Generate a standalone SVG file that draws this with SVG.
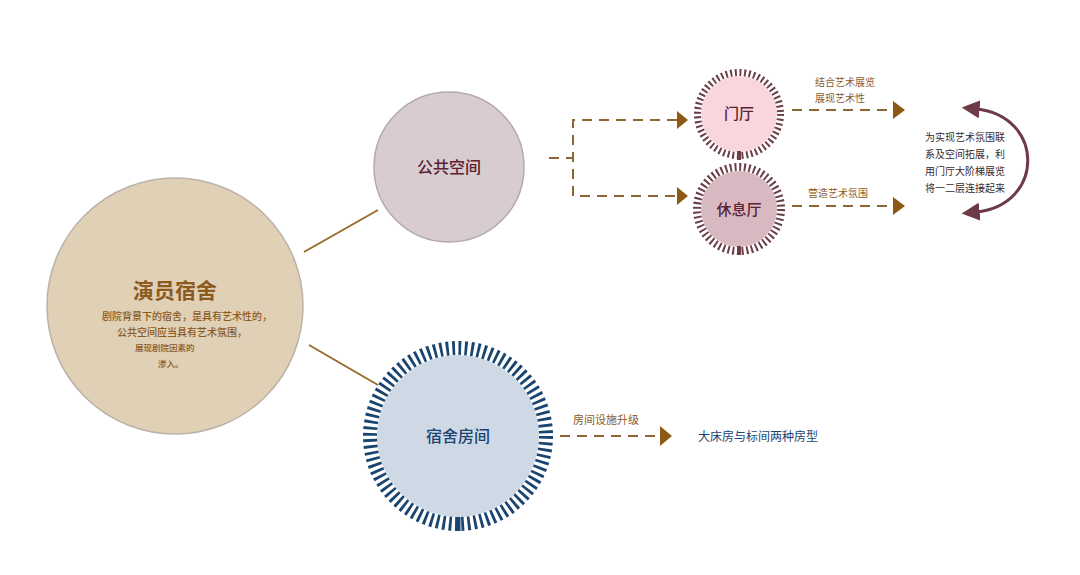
<svg xmlns="http://www.w3.org/2000/svg" width="1080" height="575" viewBox="0 0 1080 575">
<defs>
<style>
text{font-family:"Noto Sans CJK SC","Noto Sans",sans-serif}
.brown{fill:#8c5a1f}
.maroon{fill:#5a2232}
.navy{fill:#1a4570}
.solid{stroke:#9a6a2c;stroke-width:2;fill:none}
.dash{stroke:#8d6530;stroke-width:2;fill:none;stroke-dasharray:10 7}
.head{fill:#8d5a16}
.curve{stroke:#6e3a48;stroke-width:3;fill:none}
</style>
<marker id="curveHead" viewBox="0 0 10 10" refX="2" refY="5" markerWidth="6" markerHeight="6" orient="auto-start-reverse" markerUnits="strokeWidth">
<path d="M0,0 L10,5 L0,10 Z" fill="#6e3a48"/>
</marker>
</defs>
<rect width="1080" height="575" fill="#ffffff"/>

<g id="connectors">
<line class="solid" x1="304" y1="252" x2="378" y2="210"/>
<line class="solid" x1="309" y1="345" x2="378" y2="385"/>
<path class="dash" d="M549 158 H573"/>
<path class="dash" d="M677 120 H573 V196 H677"/>
<path class="head" d="M677 111 L688 120 L677 129 Z"/>
<path class="head" d="M677 187 L688 196 L677 205 Z"/>
<path class="dash" d="M792 110 H893"/>
<path class="head" d="M893 101 L905 110 L893 119 Z"/>
<path class="dash" d="M792 206 H893"/>
<path class="head" d="M893 197 L905 206 L893 215 Z"/>
<path class="dash" d="M560 436 H660"/>
<path class="head" d="M660 426 L672 436 L660 446 Z"/>
<path class="curve" d="M976 109 C1045 116,1045 205,976 212" marker-start="url(#curveHead)" marker-end="url(#curveHead)"/>
</g>

<g id="node-main">
<circle cx="175" cy="306" r="128" fill="#dfd0b6" stroke="#bcb2a8" stroke-width="1.5"/>
<text x="175" y="298" text-anchor="middle" font-size="21" font-weight="bold" class="brown">演员宿舍</text>
<text x="102" y="320" font-size="10" font-weight="500" class="brown">剧院背景下的宿舍，是具有艺术性的，</text>
<text x="117" y="336" font-size="10" font-weight="500" class="brown">公共空间应当具有艺术氛围，</text>
<text x="135" y="351" font-size="8.5" font-weight="500" class="brown">展现剧院因素的</text>
<text x="158" y="367" font-size="8.5" font-weight="500" class="brown">渗入。</text>
</g>

<g id="node-public">
<circle cx="449" cy="167" r="75" fill="#d9ccd1" stroke="#b3a8ac" stroke-width="1.5"/>
<text x="449" y="173" text-anchor="middle" font-size="16" font-weight="500" class="maroon">公共空间</text>
</g>

<g id="node-hall">
<circle cx="739" cy="114" r="38" fill="#f9d6de"/>
<circle cx="739" cy="114" r="41.5" fill="none" stroke="#6b3e48" stroke-width="7" stroke-dasharray="2 2.66"/>
<rect x="737" y="151" width="4" height="9" fill="#6b3e48"/>
<text x="739" y="119" text-anchor="middle" font-size="15" font-weight="500" class="maroon">门厅</text>
</g>

<g id="node-lounge">
<circle cx="739" cy="209" r="38" fill="#d9b9c1"/>
<circle cx="739" cy="209" r="42" fill="none" stroke="#6b3e48" stroke-width="8" stroke-dasharray="2 2.71"/>
<rect x="737" y="246" width="4" height="9" fill="#6b3e48"/>
<text x="739" y="215" text-anchor="middle" font-size="15" font-weight="500" class="maroon">休息厅</text>
</g>

<g id="node-dorm">
<circle cx="458" cy="436" r="81" fill="#cfd9e5"/>
<circle cx="458" cy="436" r="88" fill="none" stroke="#1a4570" stroke-width="14" stroke-dasharray="2.8 3.48"/>
<rect x="455.5" y="517" width="5" height="14" fill="#1a4570"/>
<text x="458" y="442" text-anchor="middle" font-size="16" font-weight="500" class="navy">宿舍房间</text>
</g>

<g id="labels">
<text x="815" y="86" font-size="10" class="brown">结合艺术展览</text>
<text x="815" y="102" font-size="10" class="brown">展现艺术性</text>
<text x="808" y="197" font-size="10" class="brown">营造艺术氛围</text>
<text x="925" y="141" font-size="10" fill="#3a2a2c">为实现艺术氛围联</text>
<text x="925" y="158" font-size="10" fill="#3a2a2c">系及空间拓展，利</text>
<text x="925" y="175" font-size="10" fill="#3a2a2c">用门厅大阶梯展览</text>
<text x="925" y="192" font-size="10" fill="#3a2a2c">将一二层连接起来</text>
<text x="573" y="424" font-size="11" class="brown">房间设施升级</text>
<text x="698" y="441" font-size="12" class="navy">大床房与标间两种房型</text>
</g>
</svg>
